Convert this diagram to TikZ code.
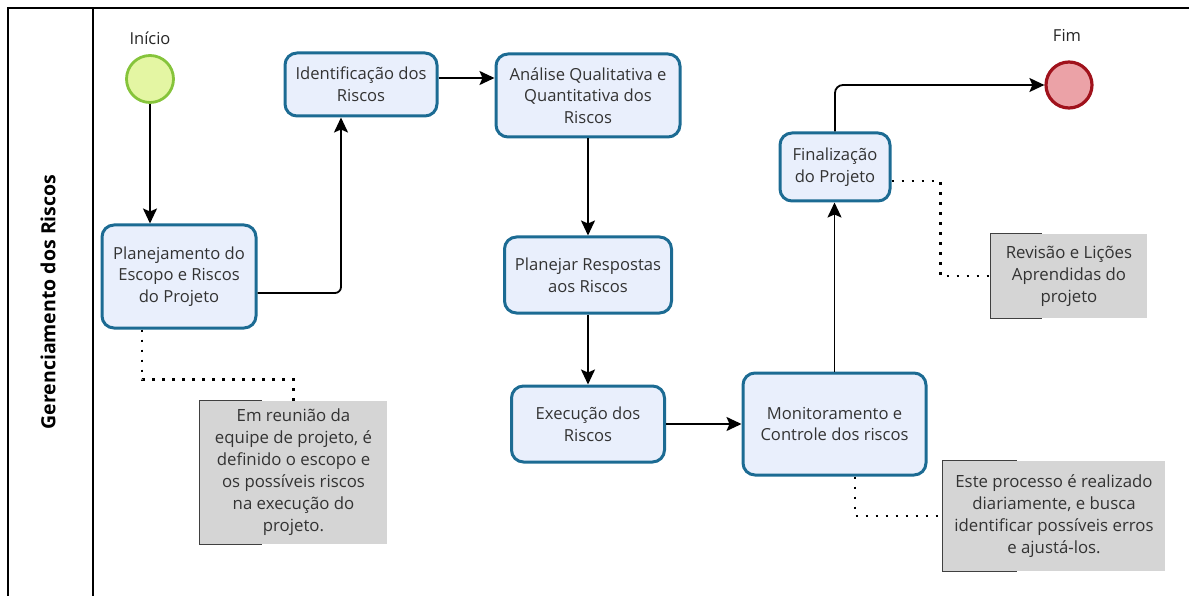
\documentclass[tikz,border=0pt]{standalone}
\usepackage{fontspec}
\setmainfont{Open Sans}
\usetikzlibrary{arrows.meta}
\definecolor{boxborder}{HTML}{1C6B93}
\definecolor{boxfill}{HTML}{E9EFFC}
\definecolor{startfill}{HTML}{E4F6A3}
\definecolor{startborder}{HTML}{86C43B}
\definecolor{endfill}{HTML}{EBA2A7}
\definecolor{endborder}{HTML}{A0121C}
\definecolor{notefill}{HTML}{D5D5D5}
\definecolor{txt}{HTML}{333333}
\tikzset{
  task/.style={draw=boxborder, fill=boxfill, line width=3pt, rounded corners=12pt,
    align=center, text=txt, font=\fontsize{16.6}{21.7}\selectfont, inner sep=0pt},
  note/.style={fill=notefill, align=center, text=txt, font=\fontsize{16.8}{22}\selectfont, inner sep=0pt},
  bracket/.style={draw=black!75, line width=1.3pt},
  flow/.style={draw=black, line width=1.8pt, -{Stealth[length=15pt,width=14pt,inset=3pt]}},
  assoc/.style={draw=black, line width=2.8pt, dash pattern=on 2.8pt off 7.2pt},
  lbl/.style={font=\fontsize{16.5}{20}\selectfont, text=black!85}
}
\begin{document}
\begin{tikzpicture}[x=1pt,y=-1pt]
\useasboundingbox (0,0) rectangle (1189,596);
% pool frame
\draw[line width=1.8pt] (8,596) coordinate (pl) -- (8,8) coordinate (ptl) -- (1189,8) coordinate (ptr);
\draw[line width=1.5pt] (93,8) coordinate (lt) -- (93,596) coordinate (lb);
\node[rotate=90, font=\bfseries\fontsize{19.5}{22}\selectfont] (lane) at (48,302) {Gerenciamento dos Riscos};

% events
\node[circle, draw=startborder, fill=startfill, line width=2.8pt, minimum size=47pt, inner sep=0pt] (start) at (150,79) {};
\node[lbl] (startlbl) at (150,38) {Início};
\node[circle, draw=endborder, fill=endfill, line width=3.2pt, minimum size=46pt, inner sep=0pt] (fim) at (1069,85) {};
\node[lbl] (fimlbl) at (1067,35) {Fim};

% tasks
\node[task, minimum width=154pt, minimum height=103pt] (plan) at (179,276.5) {Planejamento do\\Escopo e Riscos\\do Projeto};
\node[task, minimum width=152pt, minimum height=63pt] (ident) at (361,84.5) {Identificação dos\\Riscos};
\node[task, minimum width=184pt, minimum height=83pt] (anal) at (588,95.5) {Análise Qualitativa e\\Quantitativa dos\\Riscos};
\node[task, minimum width=167pt, minimum height=76pt] (planr) at (588,275) {Planejar Respostas\\aos Riscos};
\node[task, minimum width=153pt, minimum height=76pt] (exec) at (588,424) {Execução dos\\Riscos};
\node[task, minimum width=183pt, minimum height=102pt] (mon) at (834.5,424) {Monitoramento e\\Controle dos riscos};
\node[task, minimum width=110pt, minimum height=68pt] (fin) at (835,167) {Finalização\\do Projeto};

% annotations
\node[note, minimum width=187pt, minimum height=143pt] (a1) at (293.5,472.5) {Em reunião da\\equipe de projeto, é\\definido o escopo e\\os possíveis riscos\\na execução do\\projeto.};
\node[note, minimum width=156pt, minimum height=84pt] (a2) at (1069,276) {Revisão e Lições\\Aprendidas do\\projeto};
\node[note, minimum width=222pt, minimum height=110pt] (a3) at (1054,516) {Este processo é realizado\\diariamente, e busca\\identificar possíveis erros\\e ajustá-los.};
\draw[bracket] ([xshift=62pt]a1.north west) -- (a1.north west) -- (a1.south west) -- ([xshift=62pt]a1.south west);
\draw[bracket] ([xshift=51pt]a2.north west) -- (a2.north west) -- (a2.south west) -- ([xshift=51pt]a2.south west);
\draw[bracket] ([xshift=74pt]a3.north west) -- (a3.north west) -- (a3.south west) -- ([xshift=74pt]a3.south west);

% sequence flows
\draw[flow] (start.south) -- (start.south |- plan.north);
\draw[flow, rounded corners=6pt] ([yshift=-16.5pt]plan.east) -| ([xshift=-20pt]ident.south);
\draw[flow] ([yshift=6.5pt]ident.east) -- ([yshift=6.5pt]ident.east -| anal.west);
\draw[flow] (anal.south) -- (anal.south |- planr.north);
\draw[flow] (planr.south) -- (planr.south |- exec.north);
\draw[flow] (exec.east) -- (mon.west);
\draw[flow] (mon.north) -- (mon.north |- fin.south);
\draw[flow, rounded corners=8pt] (fin.north) |- (fim.west);

% associations
\draw[assoc] ([xshift=-37pt]plan.south) -- ++(0,50) -| (a1.north);
\draw[assoc] ([yshift=-14pt]fin.east) -- ++(49,0) |- (a2.west);
\draw[assoc] ([xshift=20.5pt]mon.south) |- (a3.west);
\end{tikzpicture}
\end{document}
